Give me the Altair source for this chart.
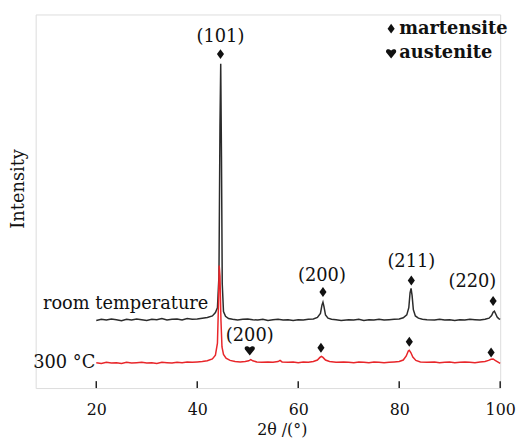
import altair as alt
import pandas as pd

# ---- data (x = 2theta in degrees, y = intensity in arbitrary units 0-100) ----
rt_points = [(20,18.1),(21,18.4),(22,18.2),(23,18.5),(24,18.3),(25,18.0),(26,18.4),(27,18.2),(28,18.5),(29,18.3),
             (30,18.1),(31,18.4),(32,18.3),(33,18.6),(34,18.2),(35,18.4),(36,18.5),(37,18.2),(38,18.6),(39,18.4),
             (40,18.5),(41,18.7),(42,18.9),(43,19.3),(43.6,20.2),(44.0,21.5),(44.3,30),(44.5,70),(44.65,86.8),(44.8,62),
             (44.95,28),(45.2,20.5),(45.6,19.2),(46.2,18.6),(47,18.4),(48,18.2),(49,18.4),(50,18.5),(51,18.3),(52,18.2),
             (53,18.4),(54,18.1),(55,18.3),(56,18.4),(57,18.2),(58,18.3),(59,18.1),(60,18.3),(61,18.2),(62,18.4),
             (63,18.5),(63.8,18.9),(64.4,20.0),(64.7,22.2),(64.9,23.0),(65.1,21.8),(65.4,19.6),(65.9,18.7),(66.6,18.4),
             (67.5,18.3),(68.5,18.1),(70,18.3),(71,18.2),(72,18.4),(73,18.1),(74,18.3),(75,18.2),(76,18.4),(77,18.2),
             (78,18.3),(79,18.4),(80,18.5),(80.8,18.8),(81.5,19.6),(81.9,21.5),(82.15,25.5),(82.35,26.7),(82.55,24.8),
             (82.8,21.0),(83.2,19.3),(83.8,18.7),(84.6,18.4),(85.5,18.3),(87,18.2),(88,18.4),(89,18.2),(90,18.3),
             (91,18.1),(92,18.3),(93,18.2),(94,18.4),(95,18.3),(96,18.2),(97,18.4),(97.8,18.7),(98.3,19.4),(98.6,20.3),
             (98.85,20.6),(99.1,19.9),(99.4,19.0),(99.7,18.6),(100,18.4)]

hot_points = [(20,6.8),(21,6.6),(22,6.9),(23,6.7),(24,6.8),(25,6.6),(26,6.9),(27,6.7),(28,6.8),(29,6.9),
              (30,6.7),(31,6.8),(32,6.6),(33,6.9),(34,6.8),(35,6.7),(36,6.9),(37,6.8),(38,7.0),(39,6.9),
              (40,7.0),(41,7.1),(42,7.3),(43,7.8),(43.6,8.8),(44.0,12),(44.2,22),(44.35,32.8),(44.5,30),(44.7,18),
              (44.9,11),(45.2,9.0),(45.7,8.0),(46.5,7.4),(47.5,7.1),(48.5,7.0),(49.5,7.1),(50.2,7.3),(50.6,7.6),(51.0,7.3),
              (51.8,7.0),(52.8,6.9),(54,7.0),(55,6.9),(56,7.1),(56.4,7.4),(56.8,7.0),(58,6.9),(59,7.0),(60,6.8),
              (61,7.0),(62,6.9),(63,7.1),(63.8,7.5),(64.3,8.2),(64.6,8.5),(64.9,8.2),(65.4,7.5),(66.2,7.1),(67.5,6.9),
              (69,7.0),(70,6.9),(71,6.8),(72,7.0),(73,6.9),(74,6.8),(75,7.0),(76,6.9),(77,6.8),(78,6.9),
              (79,7.0),(80,7.1),(80.8,7.5),(81.4,8.6),(81.8,9.9),(82.0,10.1),(82.3,9.5),(82.7,8.3),(83.3,7.4),(84.2,7.0),
              (85.5,6.9),(87,7.0),(88,6.8),(89,6.9),(90,7.0),(91,6.8),(92,6.9),(93,7.0),(94,6.9),(95,6.8),
              (96,7.0),(97,7.1),(97.7,7.4),(98.2,7.7),(98.6,7.8),(99.0,7.4),(99.5,7.0),(100,6.6)]

# peak markers (x, y)
diamond_x = [44.6, 64.9, 82.4, 98.6, 64.5, 82.0, 98.2, 78.4]
diamond_y = [89.4, 25.7, 28.8, 23.3, 10.8, 12.4, 9.5, 96.2]
heart_x = [50.4, 78.4]
heart_y = [10.1, 89.6]

# peak labels
label_text = ["(101)", "(200)", "(211)", "(220)", "(200)"]
label_x = [44.6, 64.7, 82.4, 94.5, 50.4]
label_y = [93.9, 29.9, 33.6, 28.3, 14.0]

# legend texts
legend_text = ["martensite", "austenite"]
legend_x = [80.0, 80.0]
legend_y = [96.2, 89.6]

# curve names
series_text = ["room temperature", "300 \u00b0C"]
series_x = [42.2, 19.8]
series_y = [22.5, 6.6]

tick_values = [20, 40, 60, 80, 100]

FONT = "DejaVu Serif"
TXT = "#111111"

rt_df = pd.DataFrame(rt_points, columns=["x", "y"])
hot_df = pd.DataFrame(hot_points, columns=["x", "y"])
dia_df = pd.DataFrame({"x": diamond_x, "y": diamond_y})
heart_df = pd.DataFrame({"x": heart_x, "y": heart_y})
lab_df = pd.DataFrame({"x": label_x, "y": label_y, "t": label_text})
leg_df = pd.DataFrame({"x": legend_x, "y": legend_y, "t": legend_text})
ser_df = pd.DataFrame({"x": series_x, "y": series_y, "t": series_text})
tick_df = pd.DataFrame({"x": tick_values})

xscale = alt.Scale(domain=[8, 100], nice=False, zero=False)
yscale = alt.Scale(domain=[0, 100], nice=False, zero=False)

xenc = alt.X("x:Q", scale=xscale,
             axis=alt.Axis(values=tick_values, title="2\u03b8 /(\u00b0)", grid=False, domain=False,
                           ticks=False, labelPadding=14, labelFont=FONT, labelFontSize=16,
                           labelColor=TXT, titleFont=FONT, titleFontSize=16, titleFontWeight="normal",
                           titleColor=TXT, titlePadding=4, titleX=249, titleAlign="center",
                           labelFlush=False))
yenc = alt.Y("y:Q", scale=yscale,
             axis=alt.Axis(title="Intensity", labels=False, ticks=False, grid=False, domain=False,
                           titleFont=FONT, titleFontSize=18, titleFontWeight="normal",
                           titleColor=TXT, titlePadding=8, titleY=176, titleAlign="center"))

rt_line = alt.Chart(rt_df).mark_line(color="#2b2b2b", strokeWidth=1.5).encode(x=xenc, y=yenc)
hot_line = alt.Chart(hot_df).mark_line(color="#e8262a", strokeWidth=1.5).encode(
    x=alt.X("x:Q", scale=xscale), y=alt.Y("y:Q", scale=yscale))

diamond_shape = "M0,-1 L0.72,0 L0,1 L-0.72,0 Z"
heart_shape = "M0,1 L-0.85,-0.05 C-1.25,-0.55 -0.7,-1.15 0,-0.55 C0.7,-1.15 1.25,-0.55 0.85,-0.05 Z"

dia = alt.Chart(dia_df).mark_point(shape=diamond_shape, filled=True, color="#111", size=100, opacity=1).encode(
    x=alt.X("x:Q", scale=xscale), y=alt.Y("y:Q", scale=yscale))
heart = alt.Chart(heart_df).mark_point(shape=heart_shape, filled=True, color="#111", size=110, opacity=1).encode(
    x=alt.X("x:Q", scale=xscale), y=alt.Y("y:Q", scale=yscale))

labels = alt.Chart(lab_df).mark_text(font=FONT, fontSize=18, color=TXT, align="center", baseline="middle").encode(
    x=alt.X("x:Q", scale=xscale), y=alt.Y("y:Q", scale=yscale), text="t:N")
legend = alt.Chart(leg_df).mark_text(font=FONT, fontSize=18, fontWeight="bold", color=TXT, align="left",
                                     baseline="middle").encode(
    x=alt.X("x:Q", scale=xscale), y=alt.Y("y:Q", scale=yscale), text="t:N")
series = alt.Chart(ser_df).mark_text(font=FONT, fontSize=18, color=TXT, align="right", baseline="middle").encode(
    x=alt.X("x:Q", scale=xscale), y=alt.Y("y:Q", scale=yscale), text="t:N")

ticks = alt.Chart(tick_df).mark_rule(color="#222", strokeWidth=1.5).encode(
    x=alt.X("x:Q", scale=xscale), y=alt.value(371), y2=alt.value(378))

chart = alt.layer(rt_line, hot_line, ticks, dia, heart, labels, legend, series).properties(
    width=470, height=378,
    autosize=alt.AutoSizeParams(type="none"),
    padding={"left": 28, "top": 4, "right": 16, "bottom": 49},
).configure_view(stroke="#222", strokeWidth=1.6).configure(background="white")

chart.save("out.html", embed_options={"renderer": "svg", "actions": False})
